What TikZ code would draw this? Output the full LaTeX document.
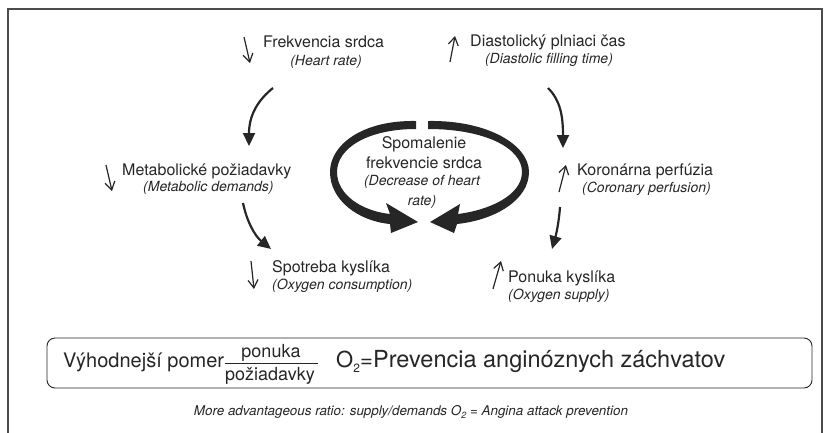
\documentclass[tikz,border=0pt]{standalone}
\usepackage{fontspec}
\setmainfont{TeX Gyre Heros}
\usetikzlibrary{arrows.meta}
\definecolor{txt}{gray}{0.15}
\begin{document}
\begin{tikzpicture}[x=1pt,y=-1pt,
  lab/.style={inner sep=0pt, anchor=base west, font=\fontsize{16}{19}\selectfont, text=txt},
  sub/.style={inner sep=0pt, anchor=base west, font=\fontsize{14}{16}\selectfont\itshape, text=txt},
  tick/.style={line width=1.2pt, draw=txt, -{Straight Barb[length=8pt,width=10pt]}},
  curv/.style={line width=2.2pt, draw=txt, -{Triangle[length=13pt,width=12pt]}},
  big/.style={fill=txt, draw=none},
]
\useasboundingbox (0,0) rectangle (830,432);
\draw[gray!60!black, line width=1.2pt] (8,440) -- (8,9) -- (822,9) -- (822,440);

% top labels
\node[lab] (hr) at (263,47) {Frekvencia srdca};
\node[sub, anchor=base] (hrs) at (326,65) {(Heart rate)};
\draw[tick] (244,37) -- (250,63);

\node[lab] (dt) at (470,46) {Diastolický plniaci čas};
\node[sub, anchor=base] (dts) at (549,63) {(Diastolic filling time)};
\draw[tick] (450,62) -- (455,36);

% middle labels
\node[lab] (md) at (122,175) {Metabolické požiadavky};
\node[sub] (mds) at (143,191) {(Metabolic demands)};
\draw[tick] (106,165) -- (112,191);

\node[lab] (cp) at (577,175) {Koronárna perfúzia};
\node[sub] (cps) at (582,192) {(Coronary perfusion)};
\draw[tick] (559,192) -- (566,165);

% bottom labels
\node[lab] (oc) at (272,272) {Spotreba kyslíka};
\node[sub] (ocs) at (272,289) {(Oxygen consumption)};
\draw[tick] (251,261) -- (254,289);

\node[lab] (os) at (508,282) {Ponuka kyslíka};
\node[sub] (oss) at (508,299) {(Oxygen supply)};
\draw[tick] (493,289) -- (501,261);

% curved connectors
\coordinate (a1) at (273,88); \coordinate (a2) at (249,146);
\draw[curv] (a1) .. controls (258,100) and (249,115) .. (a2);
\coordinate (b1) at (548,88); \coordinate (b2) at (563,148);
\draw[curv] (b1) .. controls (560,100) and (563,115) .. (b2);
\coordinate (c1) at (243,203); \coordinate (c2) at (271,249);
\draw[curv] (c1) .. controls (247,222) and (255,236) .. (c2);
\coordinate (d1) at (560,207); \coordinate (d2) at (552,249);
\draw[curv] (d1) .. controls (559,222) and (556,235) .. (d2);

% central thick arrows
\fill[big] (416,121) .. controls (362,120) and (330,145) .. (330,172)
  .. controls (330,200) and (358,221) .. (390,224)
  -- (391,233) -- (418,222) -- (386,203) -- (390,214)
  .. controls (362,211) and (337,195) .. (337,172)
  .. controls (337,148) and (368,129) .. (416,129) -- cycle;
\fill[big] (428,121) .. controls (488,120) and (529,145) .. (529,172)
  .. controls (529,200) and (495,220) .. (457,224)
  -- (454,233) -- (430,222) -- (460,204) -- (458,214)
  .. controls (490,210) and (522,195) .. (522,172)
  .. controls (522,148) and (485,129) .. (428,129) -- cycle;

\node[lab, anchor=base] (c1t) at (424,148) {Spomalenie};
\node[lab, anchor=base] (c2t) at (424,168) {frekvencie srdca};
\node[sub, anchor=base] (c3t) at (422,185) {(Decrease of heart};
\node[sub, anchor=base] (c4t) at (422,205) {rate)};

% bottom box
\draw[txt, line width=0.9pt, rounded corners=8pt] (47,338) rectangle (812,388);
\node[inner sep=0pt, anchor=base west, font=\fontsize{20}{24}\selectfont, text=txt] (v) at (63,367) {Výhodnejší pomer};
\node[inner sep=0pt, anchor=base, font=\fontsize{18}{20}\selectfont, text=txt] (num) at (271,357) {ponuka};
\node[inner sep=0pt, anchor=base, font=\fontsize{18}{20}\selectfont, text=txt] (den) at (270,380) {požiadavky};
\draw[txt, line width=0.9pt] (225,363) -- (318,363);
\node[inner sep=0pt, anchor=base west, font=\fontsize{22}{26}\selectfont, text=txt] (o2) at (336,367) {O\raisebox{-0.25em}{\fontsize{12}{15}\selectfont 2}};
\node[inner sep=0pt, anchor=base west, font=\fontsize{22}{26}\selectfont, text=txt] (eq) at (360,367) {=};
\node[inner sep=0pt, anchor=base west, font=\fontsize{23.5}{27}\selectfont, text=txt] (pr) at (373,367) {Prevencia anginóznych záchvatov};

\node[inner sep=0pt, anchor=base, font=\fontsize{13.4}{16}\selectfont\itshape, text=txt] (foot) at (411,415) {More advantageous ratio: supply/demands O\raisebox{-0.25em}{\fontsize{9}{10}\selectfont 2} = Angina attack prevention};
\end{tikzpicture}
\end{document}
